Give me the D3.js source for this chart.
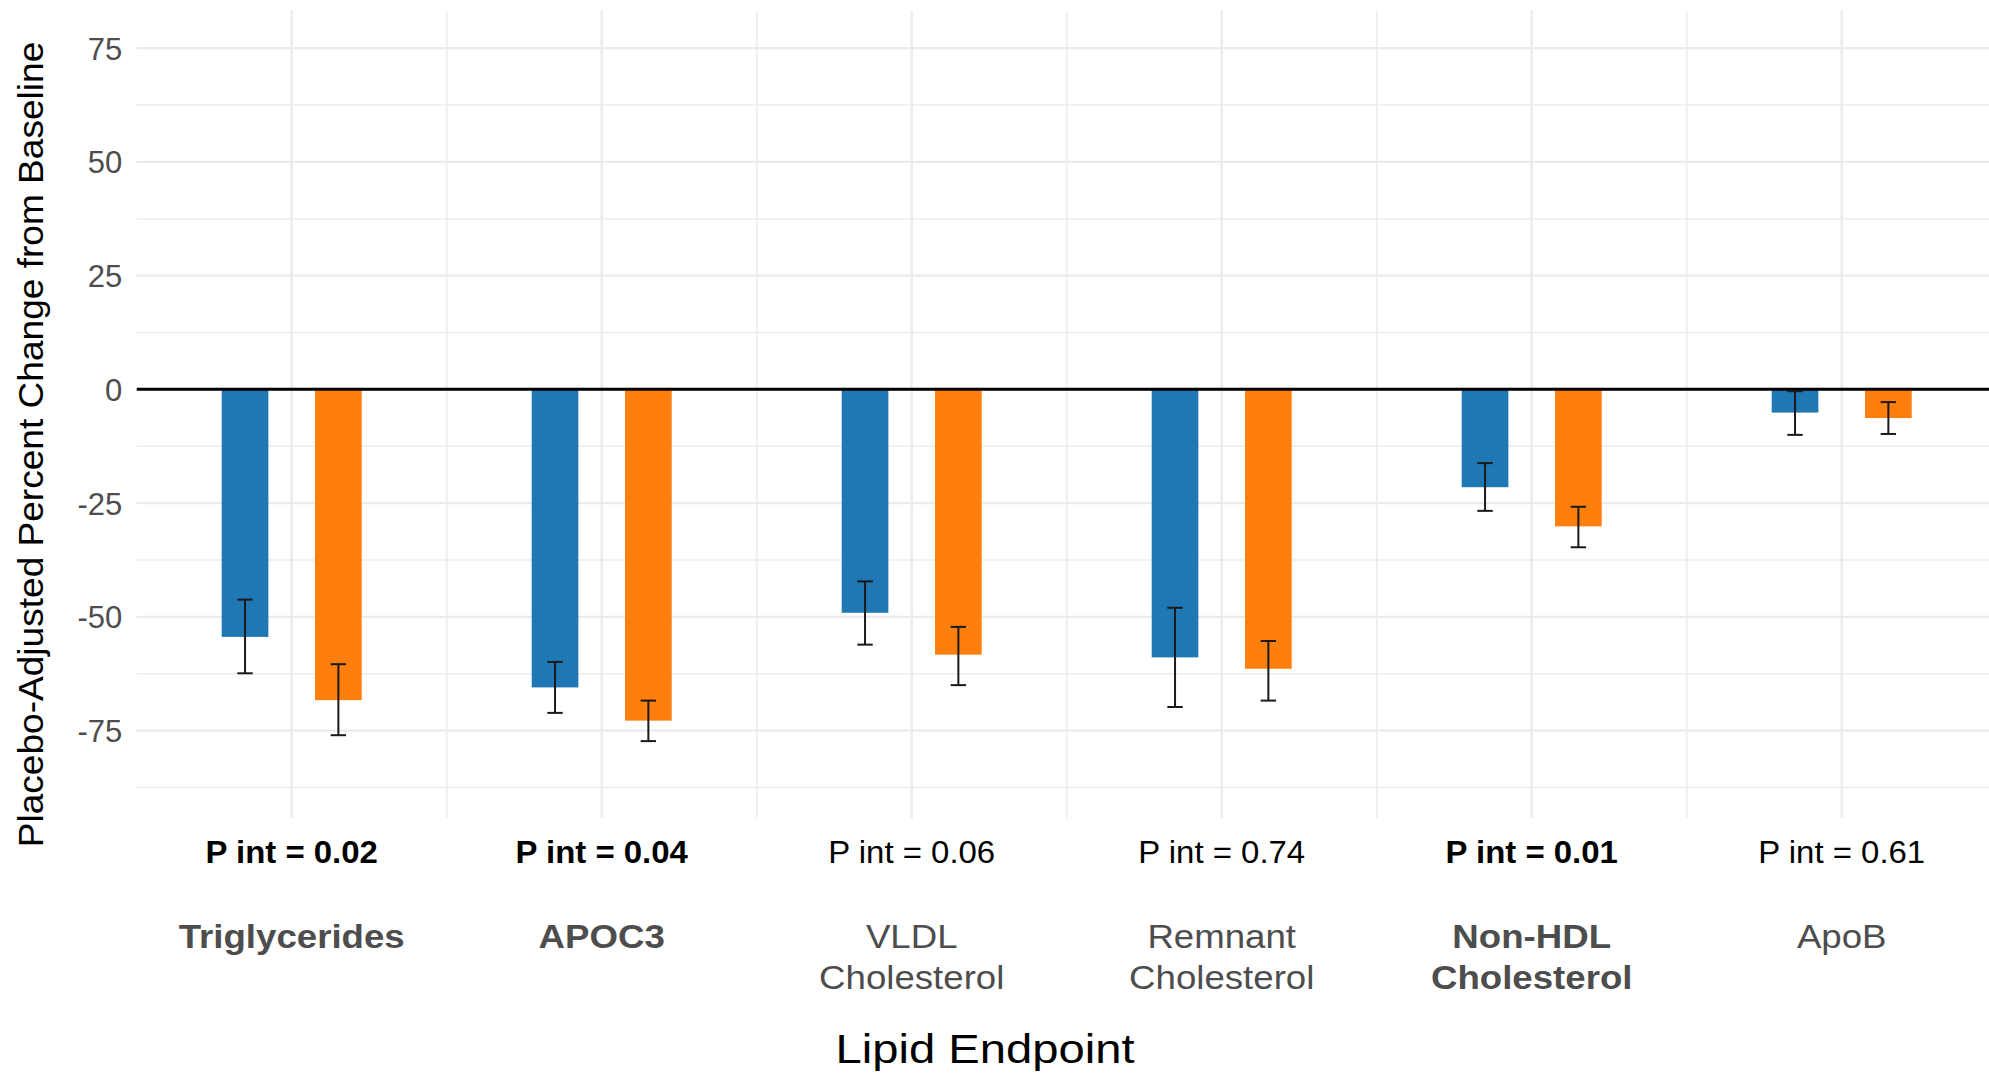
<!DOCTYPE html>
<html>
<head>
<meta charset="utf-8">
<script src="https://cdn.jsdelivr.net/npm/d3@7"></script>
<style>
  html, body { margin: 0; padding: 0; background: #ffffff; }
  svg { display: block; }
  text { font-family: "Liberation Sans", Arial, Helvetica, sans-serif; }
</style>
</head>
<body>
<svg id="chart" width="1989" height="1081"></svg>
<script>
// ---- data ----
const categories = ["Triglycerides", "APOC3", "VLDL Cholesterol", "Remnant Cholesterol", "Non-HDL Cholesterol", "ApoB"];
const categoryLines = [["Triglycerides"], ["APOC3"], ["VLDL", "Cholesterol"], ["Remnant", "Cholesterol"], ["Non-HDL", "Cholesterol"], ["ApoB"]];
const categoryBold = [true, true, false, false, true, false];
const pValues = ["0.02", "0.04", "0.06", "0.74", "0.01", "0.61"];
const pBold = [true, true, false, false, true, false];
const seriesNames = ["Group 1", "Group 2"];
const seriesColors = ["#1f77b4", "#ff7f0e"];
const group1Values = [-54.4, -65.5, -49.1, -58.9, -21.5, -5.1];
const group1Low    = [-62.4, -71.1, -56.1, -69.8, -26.7, -10.0];
const group1High   = [-46.2, -59.9, -42.2, -48.0, -16.2, -0.4];
const group2Values = [-68.3, -72.8, -58.3, -61.4, -30.1, -6.3];
const group2Low    = [-76.0, -77.3, -65.0, -68.4, -34.7, -9.8];
const group2High   = [-60.4, -68.4, -52.2, -55.3, -25.8, -2.8];
const yTicks = [-75, -50, -25, 0, 25, 50, 75];
const yMinorTicks = [-87.5, -62.5, -37.5, -12.5, 12.5, 37.5, 62.5];
const yDomain = [-94.2, 83.2];
const yTitle = "Placebo-Adjusted Percent Change from Baseline";
const xTitle = "Lipid Endpoint";

// ---- layout ----
const panel = { left: 136.7, right: 1996.7, top: 10.8, bottom: 818 };
const svg = d3.select("#chart");

const x = d3.scaleBand().domain(categories).range([panel.left, panel.right]).paddingInner(0).paddingOuter(0);
const y = d3.scaleLinear().domain(yDomain).range([panel.bottom, panel.top]);
const xSub = d3.scaleBand().domain(seriesNames).range([-70, 70]).paddingInner(0.5).paddingOuter(0);

const grid = svg.append("g");
// minor horizontal
grid.selectAll("line.hmin").data(yMinorTicks).join("line")
  .attr("x1", panel.left).attr("x2", panel.right)
  .attr("y1", d => y(d)).attr("y2", d => y(d))
  .attr("stroke", "#ececec").attr("stroke-width", 1.6);
// major horizontal
grid.selectAll("line.hmaj").data(yTicks).join("line")
  .attr("x1", panel.left).attr("x2", panel.right)
  .attr("y1", d => y(d)).attr("y2", d => y(d))
  .attr("stroke", "#ebebeb").attr("stroke-width", 2.2);
// minor vertical (between categories)
grid.selectAll("line.vmin").data(categories.slice(1)).join("line")
  .attr("x1", d => x(d)).attr("x2", d => x(d))
  .attr("y1", panel.top).attr("y2", panel.bottom)
  .attr("stroke", "#ececec").attr("stroke-width", 1.6);
// major vertical
grid.selectAll("line.vmaj").data(categories).join("line")
  .attr("x1", d => x(d) + x.bandwidth() / 2).attr("x2", d => x(d) + x.bandwidth() / 2)
  .attr("y1", panel.top).attr("y2", panel.bottom)
  .attr("stroke", "#ebebeb").attr("stroke-width", 2.4);

// ---- bars ----
const seriesData = [
  { name: seriesNames[0], color: seriesColors[0], values: group1Values, low: group1Low, high: group1High },
  { name: seriesNames[1], color: seriesColors[1], values: group2Values, low: group2Low, high: group2High }
];
const flat = [];
seriesData.forEach(s => categories.forEach((c, i) => flat.push({
  cat: c, series: s.name, color: s.color, v: s.values[i], lo: s.low[i], hi: s.high[i]
})));
const cx = d => x(d.cat) + x.bandwidth() / 2 + xSub(d.series);

svg.append("g").selectAll("rect").data(flat).join("rect")
  .attr("x", d => cx(d))
  .attr("width", xSub.bandwidth())
  .attr("y", d => Math.min(y(0), y(d.v)))
  .attr("height", d => Math.abs(y(d.v) - y(0)))
  .attr("fill", d => d.color);

// zero line
svg.append("line")
  .attr("x1", panel.left).attr("x2", panel.right)
  .attr("y1", y(0)).attr("y2", y(0))
  .attr("stroke", "#000").attr("stroke-width", 3);

// error bars
const eb = svg.append("g").attr("stroke", "#1a1a1a").attr("stroke-width", 2);
const capHalf = 7.7;
flat.forEach(d => {
  const mx = cx(d) + xSub.bandwidth() / 2;
  eb.append("line").attr("x1", mx).attr("x2", mx).attr("y1", y(d.hi)).attr("y2", y(d.lo));
  eb.append("line").attr("x1", mx - capHalf).attr("x2", mx + capHalf).attr("y1", y(d.hi)).attr("y2", y(d.hi));
  eb.append("line").attr("x1", mx - capHalf).attr("x2", mx + capHalf).attr("y1", y(d.lo)).attr("y2", y(d.lo));
});

// ---- y axis tick labels ----
svg.append("g").selectAll("text").data(yTicks).join("text")
  .attr("x", panel.left - 14.5)
  .attr("y", d => y(d))
  .attr("dy", "0.37em")
  .attr("text-anchor", "end")
  .attr("font-size", 31)
  .attr("fill", "#4d4d4d")
  .text(d => d);

// ---- P int labels ----
svg.append("g").selectAll("text").data(categories).join("text")
  .attr("transform", (d, i) => `translate(${x(d) + x.bandwidth() / 2},863) scale(1.08,1)`)
  .attr("text-anchor", "middle")
  .attr("font-size", 30.5)
  .attr("font-weight", (d, i) => pBold[i] ? "bold" : "normal")
  .attr("fill", "#000")
  .text((d, i) => `P int = ${pValues[i]}`);

// ---- category labels ----
const catG = svg.append("g");
categories.forEach((c, i) => {
  const bold = categoryBold[i];
  categoryLines[i].forEach((line, j) => {
    catG.append("text")
      .attr("transform", `translate(${x(c) + x.bandwidth() / 2},${948 + j * 40.5}) scale(1.11,1)`)
      .attr("text-anchor", "middle")
      .attr("font-size", 33)
      .attr("font-weight", bold ? "bold" : "normal")
      .attr("fill", "#4d4d4d")
      .text(line);
  });
});

// ---- axis titles ----
svg.append("text")
  .attr("transform", "translate(43.3,444.5) rotate(-90) scale(1.05,1)")
  .attr("text-anchor", "middle")
  .attr("font-size", 35.3)
  .attr("fill", "#000")
  .text(yTitle);

svg.append("text")
  .attr("transform", "translate(985,1063.3) scale(1.18,1)")
  .attr("text-anchor", "middle")
  .attr("font-size", 40)
  .attr("fill", "#000")
  .text(xTitle);
</script>
</body>
</html>
